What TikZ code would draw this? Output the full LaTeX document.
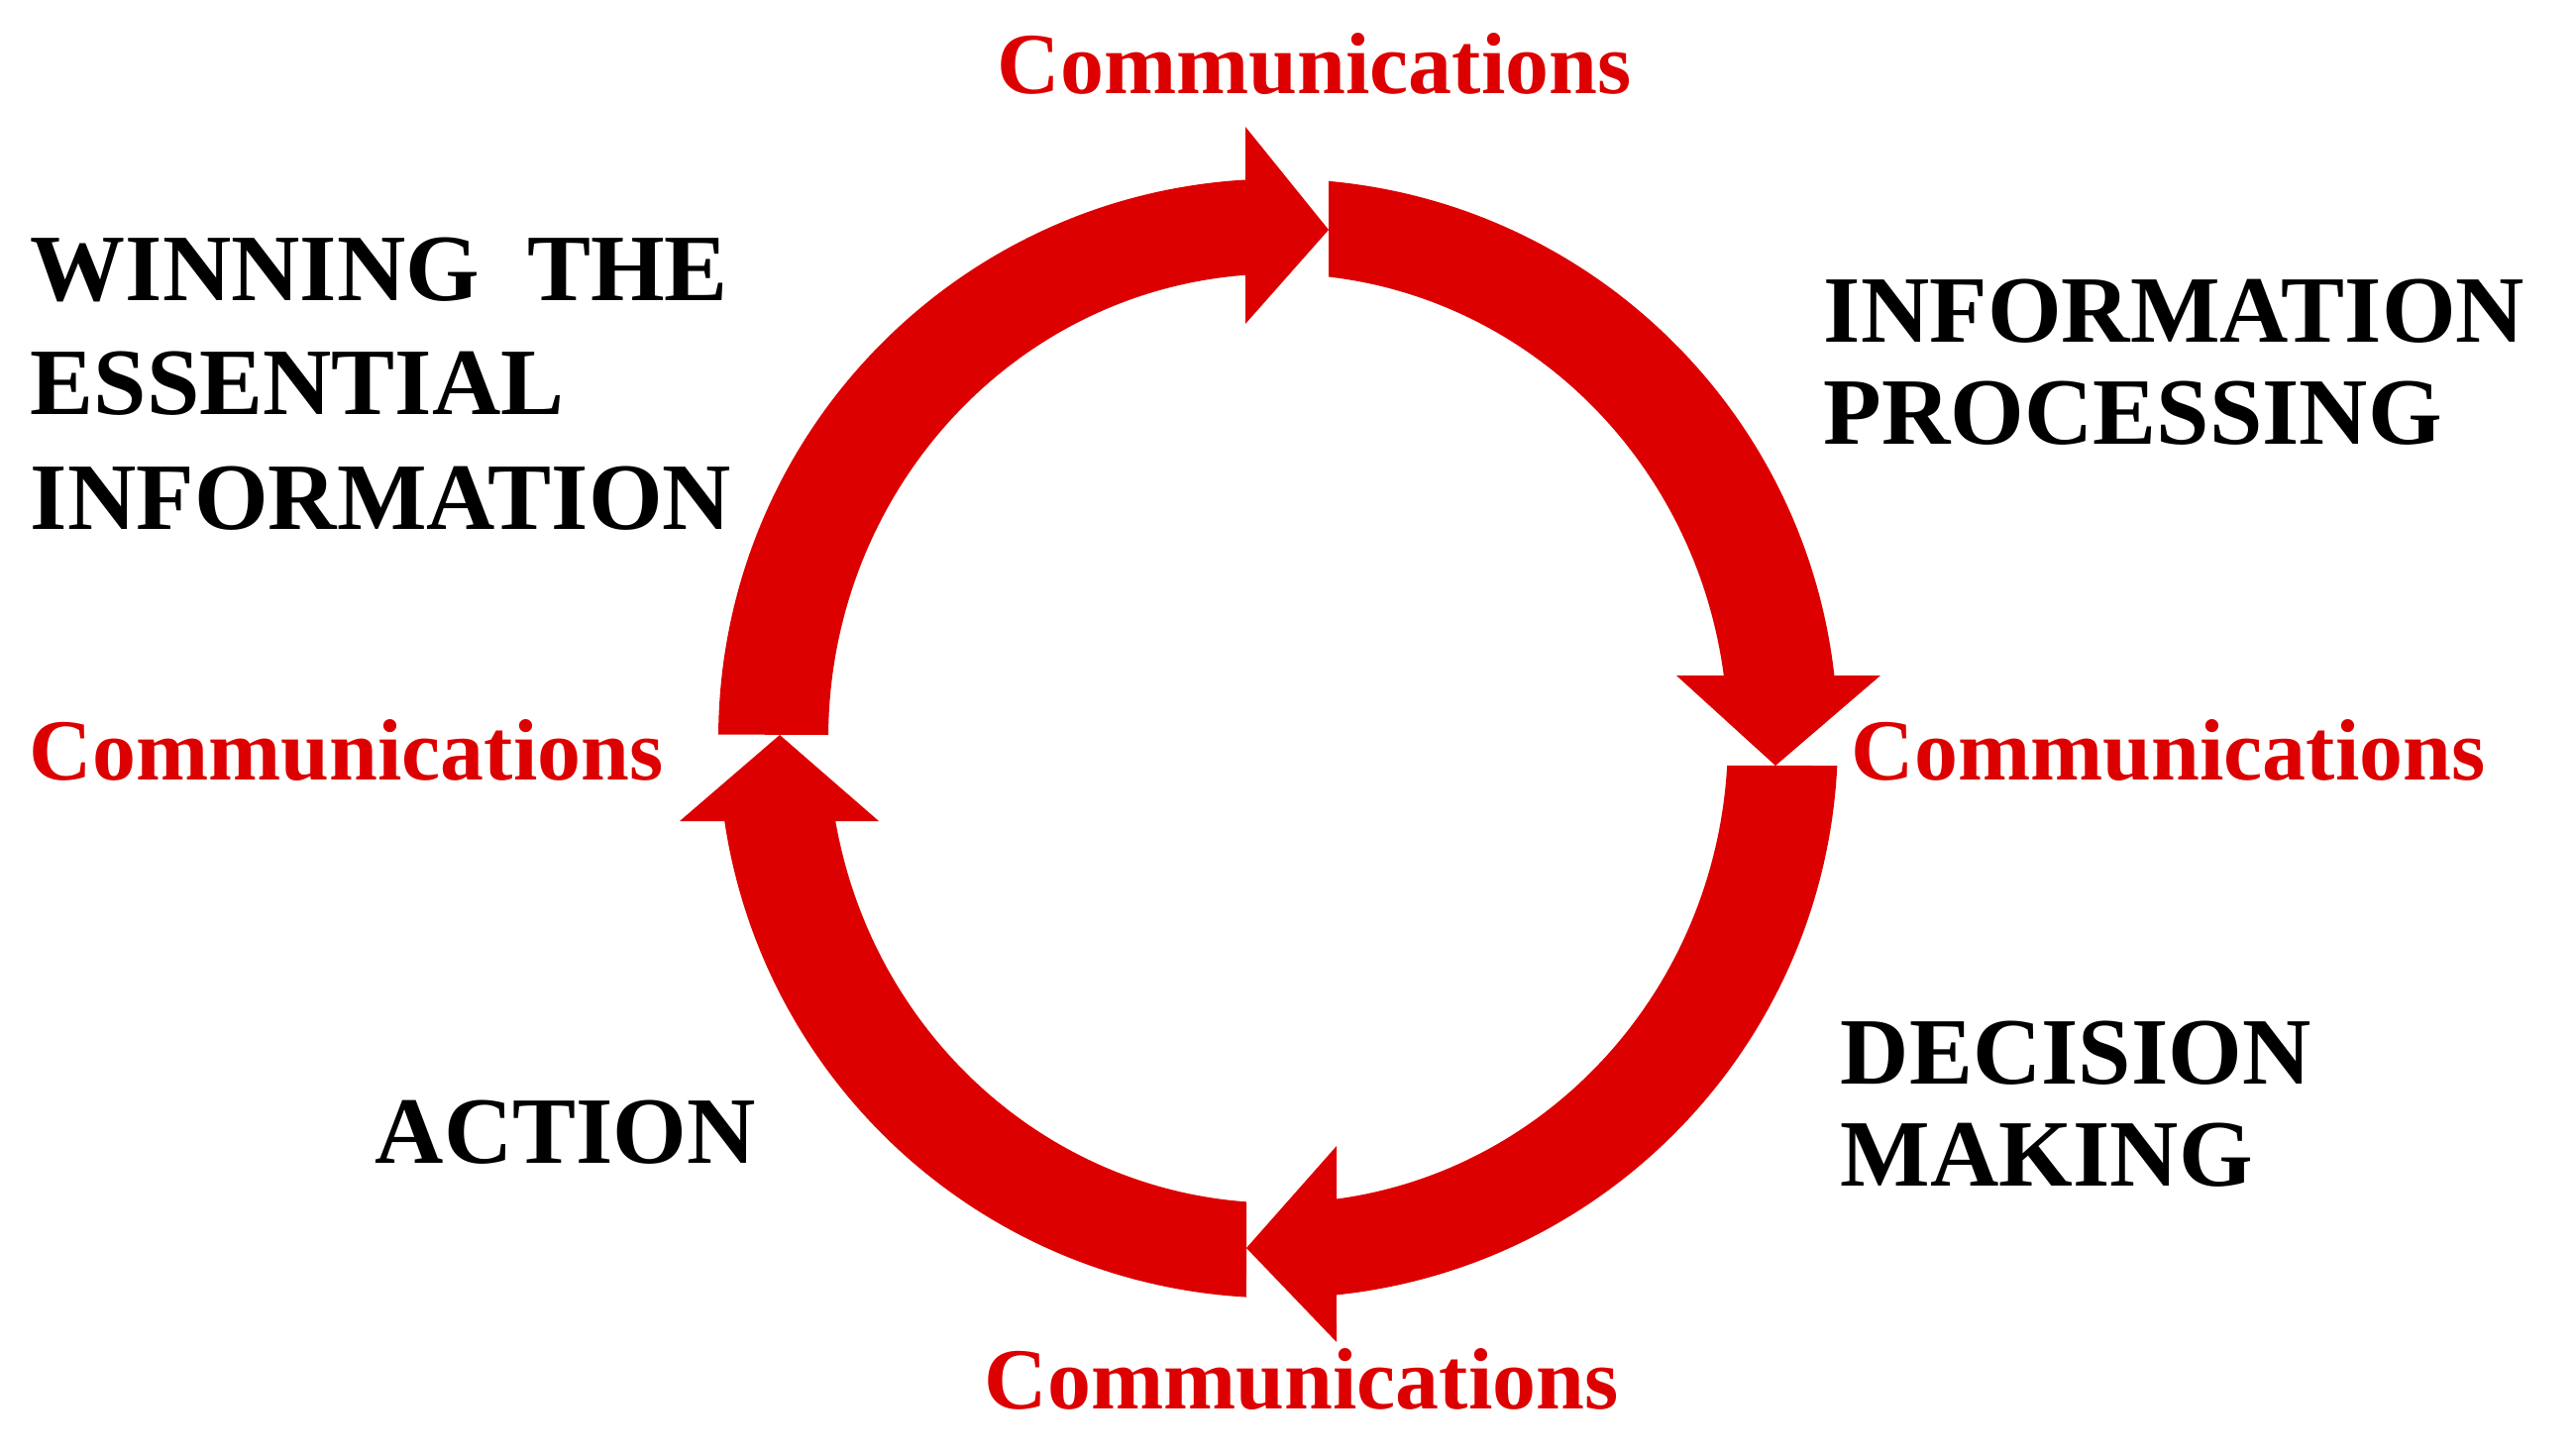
\documentclass[tikz,border=0pt]{standalone}
\usepackage{fontspec}
\setmainfont{Liberation Serif}
\definecolor{commred}{RGB}{221,0,0}
\begin{document}
\begin{tikzpicture}[x=0.01cm,y=0.01cm,
  ringarrow/.style={fill=commred,draw=none},
  commtext/.style={font=\fontsize{25}{30}\selectfont\bfseries,text=commred,anchor=base west,inner sep=0pt},
  phasetext/.style={font=\fontsize{27.3}{32}\selectfont\bfseries,text=black,anchor=base west,inner sep=0pt}]
\useasboundingbox (0,0) rectangle (2600,1468);
\begin{scope}[shift={(1290,722.5)}]
\fill[ringarrow] (179.6:565) arc[start angle=179.6,end angle=93.35,radius=565] -- (-33,617.5) -- (51,513.5) -- (-33,418.5) -- (94.17:454 and 469) arc[start angle=94.17,end angle=179.57,x radius=454,y radius=469] -- cycle;
\fill[ringarrow] (84.82:565) arc[start angle=84.82,end angle=6.45,radius=565] -- (608,63.5) -- (502,-27.5) -- (402,63.5) -- (7.78:454 and 469) arc[start angle=7.78,end angle=83.55,x radius=454,y radius=469] -- cycle;
\fill[ringarrow] (-2.79:565) arc[start angle=-2.79,end angle=-84.01,radius=565] -- (59,-609.5) -- (-32,-514.5) -- (59,-411.5) -- (-82.53:454 and 469) arc[start angle=-82.53,end angle=-3.36,x radius=454,y radius=469] -- cycle;
\fill[ringarrow] (-93.25:565) arc[start angle=-93.25,end angle=-171.5,radius=565] -- (-604,-83.5) -- (-503,3.5) -- (-403,-83.5) -- (-169.74:454 and 469) arc[start angle=-169.74,end angle=-94.04,x radius=454,y radius=469] -- cycle;
\end{scope}
\node[commtext] (commtop) at (1006,1373.5) {Communications};
\node[commtext] (commleft) at (29,680.5) {Communications};
\node[commtext] (commright) at (1868,680.5) {Communications};
\node[commtext] (commbottom) at (993,45.4) {Communications};
\node[phasetext] (win1) at (30,1164.6) {WINNING~~THE};
\node[phasetext] (win2) at (30,1050) {ESSENTIAL};
\node[phasetext] (win3) at (30,934) {INFORMATION};
\node[phasetext] (proc1) at (1840,1123) {INFORMATION};
\node[phasetext] (proc2) at (1840,1020) {PROCESSING};
\node[phasetext] (deci1) at (1857,374) {DECISION};
\node[phasetext] (deci2) at (1857,271) {MAKING};
\node[phasetext] (act) at (378,294) {ACTION};
\end{tikzpicture}
\end{document}
